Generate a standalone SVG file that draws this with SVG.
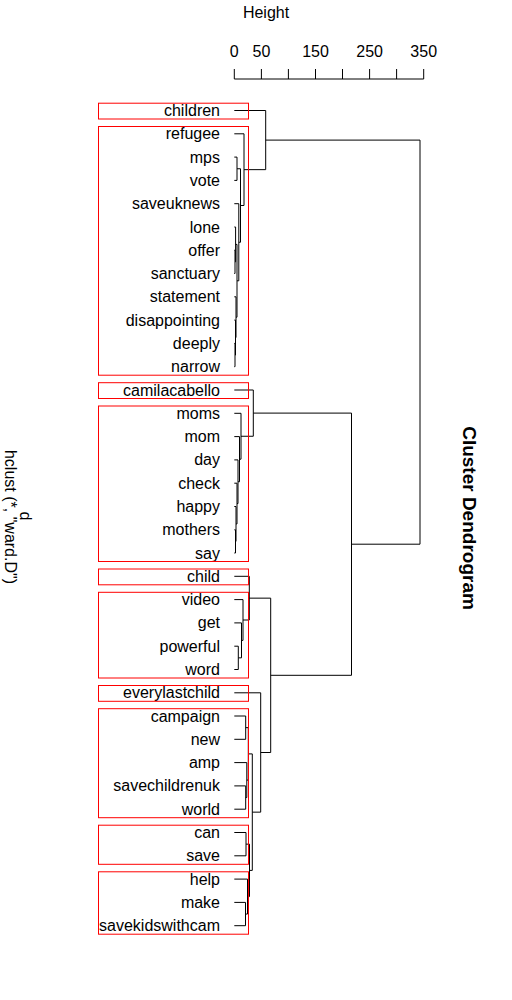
<svg xmlns="http://www.w3.org/2000/svg" width="512" height="1000" viewBox="0 0 512 1000">
<style>
text{font-family:"Liberation Sans",Arial,sans-serif;font-size:16px;fill:#000}
.lab{text-anchor:end}
.mid{text-anchor:middle}
.title{font-size:19px;font-weight:bold}
.ln{fill:none;stroke:#000;stroke-width:1}
.box{fill:none;stroke:#ff0000;stroke-width:1}
</style>
<rect width="512" height="1000" fill="#fff"/>
<g id="axis">
<path class="ln" d="M234.3 79H423.7M234.3 79V69M261.4 79V69M288.4 79V69M315.5 79V69M342.5 79V69M369.6 79V69M396.6 79V69M423.7 79V69"/>
<text class="mid" x="234.3" y="57">0</text>
<text class="mid" x="261.4" y="57">50</text>
<text class="mid" x="315.5" y="57">150</text>
<text class="mid" x="369.6" y="57">250</text>
<text class="mid" x="423.7" y="57">350</text>
<text class="mid" x="266" y="18">Height</text>
</g>
<g id="titles">
<text class="mid title" transform="translate(463,518) rotate(90)">Cluster Dendrogram</text>
<text class="mid" transform="translate(20,516) rotate(90)">d</text>
<text class="mid" transform="translate(4.5,517) rotate(90)">hclust (*, "ward.D")</text>
</g>
<g id="connectors" class="ln">
<path class="ln" d="M234.3 157.1H237V180.4H234.3"/>
<path class="ln" d="M234.3 250.2H235V273.5H234.3"/>
<path class="ln" d="M234.3 227H235.6V261.85H235"/>
<path class="ln" d="M234.3 343.4H235V366.7H234.3"/>
<path class="ln" d="M234.3 320.1H235.5V355.05H235"/>
<path class="ln" d="M234.3 296.8H236V337.6H235.5"/>
<path class="ln" d="M235.6 244.4H237V317.2H236"/>
<path class="ln" d="M234.3 203.7H238.8V280.8H237"/>
<path class="ln" d="M237 168.75H240.5V242.25H238.8"/>
<path class="ln" d="M234.3 133.8H244V205.5H240.5"/>
<path class="ln" d="M234.3 110.5H265.7V169.65H244"/>
<path class="ln" d="M234.3 529.8H235.5V553H234.3"/>
<path class="ln" d="M234.3 506.5H236V541.4H235.5"/>
<path class="ln" d="M234.3 483.2H237V523.95H236"/>
<path class="ln" d="M234.3 459.9H238V503.6H237"/>
<path class="ln" d="M234.3 436.6H239.5V481.75H238"/>
<path class="ln" d="M234.3 413.3H241V459.2H239.5"/>
<path class="ln" d="M234.3 390H253.3V436.25H241"/>
<path class="ln" d="M234.3 646.2H238.3V669.5H234.3"/>
<path class="ln" d="M234.3 622.9H241.5V657.85H238.3"/>
<path class="ln" d="M234.3 599.6H243V640.4H241.5"/>
<path class="ln" d="M234.3 576.3H249.3V620H243"/>
<path class="ln" d="M234.3 716H245.7V739.3H234.3"/>
<path class="ln" d="M234.3 785.9H245.7V809.2H234.3"/>
<path class="ln" d="M234.3 762.6H246.8V797.55H245.7"/>
<path class="ln" d="M245.7 727.65H248.3V780.1H246.8"/>
<path class="ln" d="M234.3 832.5H246V855.8H234.3"/>
<path class="ln" d="M234.3 902.4H245.5V925.7H234.3"/>
<path class="ln" d="M234.3 879.1H247.5V914.05H245.5"/>
<path class="ln" d="M246 844.15H249.5V896.6H247.5"/>
<path class="ln" d="M248.3 753.9H252.3V870.4H249.5"/>
<path class="ln" d="M234.3 692.8H260.7V812.15H252.3"/>
<path class="ln" d="M249.3 598.15H270.7V752.5H260.7"/>
<path class="ln" d="M253.3 413.1H351.5V675.3H270.7"/>
<path class="ln" d="M265.7 140.1H420V544.2H351.5"/>
</g>
<g id="leaves">
<g id="n-children"><text class="lab" x="220" y="116">children</text></g>
<g id="n-refugee"><text class="lab" x="220" y="139.3">refugee</text></g>
<g id="n-mps"><text class="lab" x="220" y="162.6">mps</text></g>
<g id="n-vote"><text class="lab" x="220" y="185.9">vote</text></g>
<g id="n-saveuknews"><text class="lab" x="220" y="209.2">saveuknews</text></g>
<g id="n-lone"><text class="lab" x="220" y="232.5">lone</text></g>
<g id="n-offer"><text class="lab" x="220" y="255.7">offer</text></g>
<g id="n-sanctuary"><text class="lab" x="220" y="279">sanctuary</text></g>
<g id="n-statement"><text class="lab" x="220" y="302.3">statement</text></g>
<g id="n-disappointing"><text class="lab" x="220" y="325.6">disappointing</text></g>
<g id="n-deeply"><text class="lab" x="220" y="348.9">deeply</text></g>
<g id="n-narrow"><text class="lab" x="220" y="372.2">narrow</text></g>
<g id="n-camilacabello"><text class="lab" x="220" y="395.5">camilacabello</text></g>
<g id="n-moms"><text class="lab" x="220" y="418.8">moms</text></g>
<g id="n-mom"><text class="lab" x="220" y="442.1">mom</text></g>
<g id="n-day"><text class="lab" x="220" y="465.4">day</text></g>
<g id="n-check"><text class="lab" x="220" y="488.7">check</text></g>
<g id="n-happy"><text class="lab" x="220" y="512">happy</text></g>
<g id="n-mothers"><text class="lab" x="220" y="535.3">mothers</text></g>
<g id="n-say"><text class="lab" x="220" y="558.5">say</text></g>
<g id="n-child"><text class="lab" x="220" y="581.8">child</text></g>
<g id="n-video"><text class="lab" x="220" y="605.1">video</text></g>
<g id="n-get"><text class="lab" x="220" y="628.4">get</text></g>
<g id="n-powerful"><text class="lab" x="220" y="651.7">powerful</text></g>
<g id="n-word"><text class="lab" x="220" y="675">word</text></g>
<g id="n-everylastchild"><text class="lab" x="220" y="698.3">everylastchild</text></g>
<g id="n-campaign"><text class="lab" x="220" y="721.5">campaign</text></g>
<g id="n-new"><text class="lab" x="220" y="744.8">new</text></g>
<g id="n-amp"><text class="lab" x="220" y="768.1">amp</text></g>
<g id="n-savechildrenuk"><text class="lab" x="220" y="791.4">savechildrenuk</text></g>
<g id="n-world"><text class="lab" x="220" y="814.7">world</text></g>
<g id="n-can"><text class="lab" x="220" y="838">can</text></g>
<g id="n-save"><text class="lab" x="220" y="861.3">save</text></g>
<g id="n-help"><text class="lab" x="220" y="884.6">help</text></g>
<g id="n-make"><text class="lab" x="220" y="907.9">make</text></g>
<g id="n-savekidswithcam"><text class="lab" x="220" y="931.2">savekidswithcam</text></g>
</g>
<g id="cluster-boxes">
<rect class="box" x="98.5" y="103.2" width="150" height="15.8"/>
<rect class="box" x="98.5" y="126.5" width="150" height="248.7"/>
<rect class="box" x="98.5" y="382.7" width="150" height="15.8"/>
<rect class="box" x="98.5" y="406" width="150" height="155.5"/>
<rect class="box" x="98.5" y="569" width="150" height="15.8"/>
<rect class="box" x="98.5" y="592.3" width="150" height="85.7"/>
<rect class="box" x="98.5" y="685.5" width="150" height="15.8"/>
<rect class="box" x="98.5" y="708.7" width="150" height="109"/>
<rect class="box" x="98.5" y="825.2" width="150" height="39.1"/>
<rect class="box" x="98.5" y="871.8" width="150" height="62.4"/>
</g>
</svg>
